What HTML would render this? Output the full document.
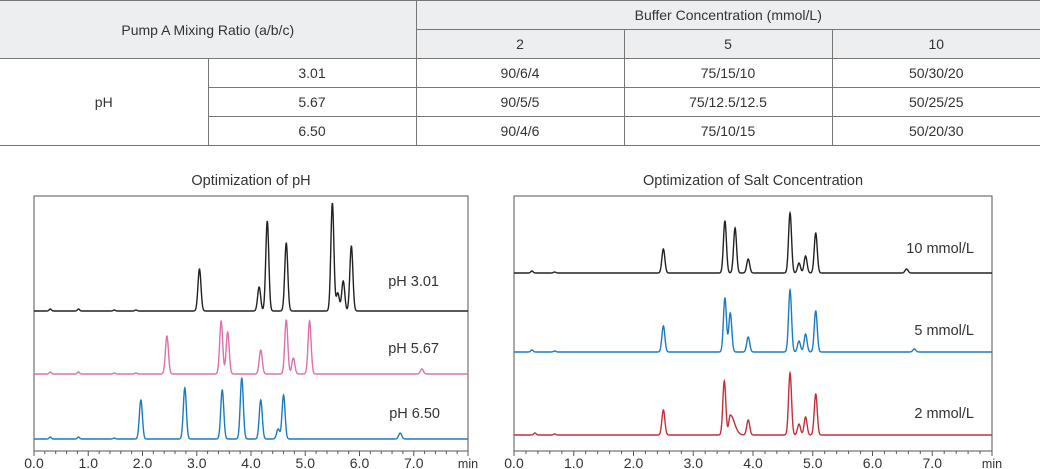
<!DOCTYPE html>
<html><head><meta charset="utf-8">
<style>
body{margin:0;width:1040px;height:469px;background:#fff;font-family:"Liberation Sans",sans-serif;overflow:hidden;position:relative}
table{position:absolute;left:0;top:0;width:1040px;border-collapse:collapse;font-size:14px;color:#333}
td{border:1px solid #777;text-align:center;height:28px;padding:0}
tr.h td{background:#eceef0}
table tr td:first-child{border-left:none}
table tr td:last-child{border-right:none}
</style></head><body>
<table>
<colgroup><col style="width:208px"><col style="width:208px"><col style="width:208px"><col style="width:208px"><col style="width:208px"></colgroup>
<tr class="h"><td colspan="2" rowspan="2">Pump A Mixing Ratio (a/b/c)</td><td colspan="3">Buffer Concentration (mmol/L)</td></tr>
<tr class="h"><td>2</td><td>5</td><td>10</td></tr>
<tr><td rowspan="3">pH</td><td>3.01</td><td>90/6/4</td><td>75/15/10</td><td>50/30/20</td></tr>
<tr><td>5.67</td><td>90/5/5</td><td>75/12.5/12.5</td><td>50/25/25</td></tr>
<tr><td>6.50</td><td>90/4/6</td><td>75/10/15</td><td>50/20/30</td></tr>
</table>
<svg id="c" width="1040" height="469" style="position:absolute;left:0;top:0"></svg>
<script>
const tickLabels=["0.0","1.0","2.0","3.0","4.0","5.0","6.0","7.0"];
const phLabels=["pH 3.01","pH 5.67","pH 6.50"];
const phColors=["#222","#e070a8","#1a7cc0"];
const phTimes1=[0.3,0.82,1.48,1.88,3.05,4.15,4.3,4.65,5.5,5.6,5.7,5.85];
const phHeights1=[2,2,1,1,42,24,90,68,108,18,30,65];
const phTimes2=[0.3,0.82,1.48,1.88,2.45,3.45,3.57,4.18,4.65,4.78,5.08,7.15];
const phHeights2=[2,2,1,1,38,53,42,24,54,16,53,5];
const phTimes3=[0.3,0.82,1.48,1.97,2.78,3.47,3.83,4.18,4.5,4.6,6.75];
const phHeights3=[2,2,1,39,51,49,61,39,10,44,6];
const saltLabels=["10 mmol/L","5 mmol/L","2 mmol/L"];
const saltColors=["#222","#1a7cc0","#c0303a"];
const saltTimes1=[0.3,0.68,2.5,3.53,3.7,3.92,4.62,4.77,4.88,5.05,6.57];
const saltHeights1=[2,1,24,52,45,14,60,10,17,40,4];
const saltTimes2=[0.3,0.68,2.5,3.53,3.62,3.92,4.62,4.77,4.88,5.05,6.7];
const saltHeights2=[2,1,26,54,39,15,62,11,18,41,3];
const saltTimes3=[0.35,0.68,2.5,3.52,3.62,3.92,4.62,4.77,4.88,5.05];
const saltHeights3=[2,1,25,54,20,15,62,11,18,41];
const NS="http://www.w3.org/2000/svg";
const svg=document.getElementById('c');
function mk(t,a){const e=document.createElementNS(NS,t);for(const k in a)e.setAttribute(k,a[k]);svg.appendChild(e);return e;}
function chart(x0,x1,title,baselines,labels,colors,times,heights,labelYs,name,sgBase){
  const top=196,bot=451,xs=t=>x0+(x1-x0)*t/8;
  const fr=mk('rect',{x:x0,y:top,width:x1-x0,height:bot-top,fill:'none',stroke:'#555','stroke-width':1});
  
  const tt=mk('text',{x:(x0+x1)/2,y:185,'text-anchor':'middle','font-size':14.5,fill:'#333'});tt.textContent=title;
  
  for(let i=0;i<=40;i++){const x=xs(i*0.2);const l=mk('line',{x1:x,x2:x,y1:bot,y2:bot+(i%5?3:5),stroke:'#555'});
    }
  tickLabels.forEach((s,i)=>{const t=mk('text',{x:xs(i),y:468,'text-anchor':'middle','font-size':14,fill:'#333'});t.textContent=s;
    });
  const m=mk('text',{x:x1,y:468,'text-anchor':'middle','font-size':12.5,fill:'#333'});m.textContent='min';
  
  for(let s=0;s<3;s++){
    let d='';
    for(let t=0;t<=8.0001;t+=0.004){let y=0;
      for(let k=0;k<times[s].length;k++){const sg=times[s][k]<1.9?0.02:sgBase;const dt=t-times[s][k];const sig=dt>0&&name==='salt'&&s===2&&k===4?0.07:sg;y+=heights[s][k]*Math.exp(-dt*dt/(2*sig*sig));}
      d+=(d?'L':'M')+xs(t).toFixed(2)+','+(baselines[s]-y).toFixed(2);}
    const p=mk('path',{d:d,fill:'none',stroke:colors[s],'stroke-width':1.4});
    
    const lb=mk('text',{x:labelYs[s][0],y:labelYs[s][1],'text-anchor':'end','font-size':14.5,fill:'#333'});lb.textContent=labels[s];
    
  }
}
chart(34,468,"Optimization of pH",[311,374,439],phLabels,phColors,[phTimes1,phTimes2,phTimes3],[phHeights1,phHeights2,phHeights3],[[439,286],[439,353],[440,418]],'ph',0.028);
chart(514,992,"Optimization of Salt Concentration",[273,352,435],saltLabels,saltColors,[saltTimes1,saltTimes2,saltTimes3],[saltHeights1,saltHeights2,saltHeights3],[[974,253],[974,335],[974,418]],'salt',0.025);
</script>
</body></html>
